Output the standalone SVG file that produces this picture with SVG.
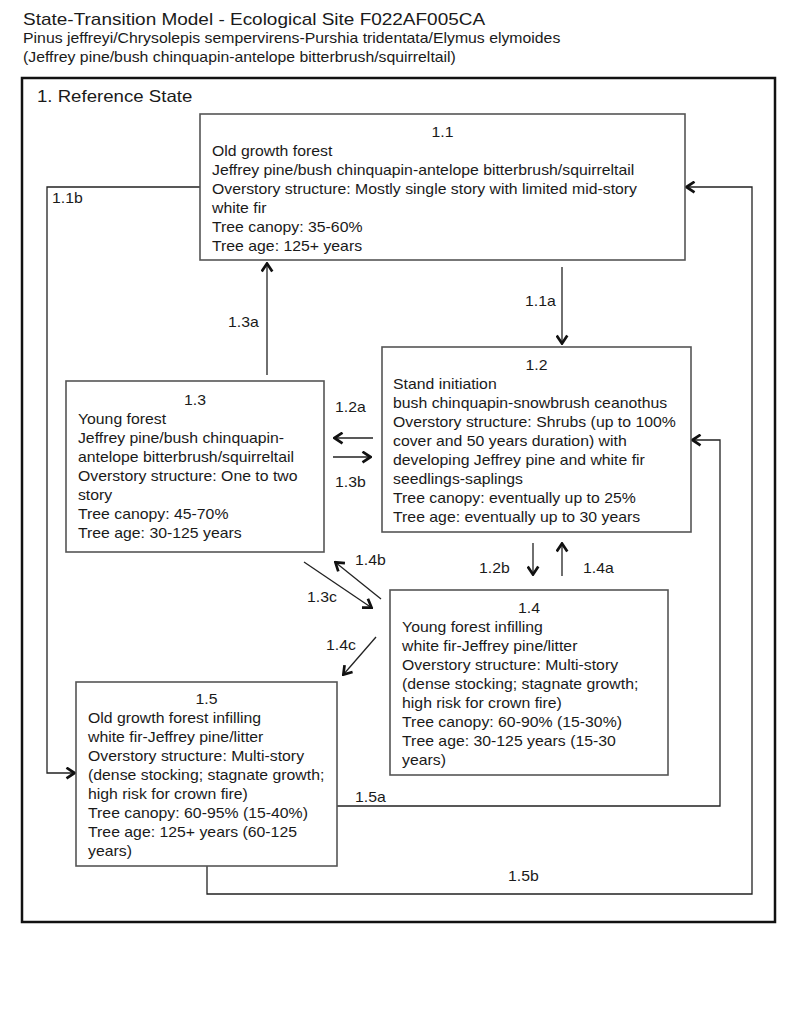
<svg xmlns="http://www.w3.org/2000/svg" width="800" height="1028" viewBox="0 0 800 1028">
<defs>
<style>
.bg{fill:#fff}
.outer{fill:none;stroke:#111;stroke-width:2.5}
.box{fill:#fff;stroke:#555;stroke-width:1.6}
.t{font-family:"Liberation Sans",Arial,Helvetica,sans-serif;font-size:14px;fill:#1a1a1a}
.title{font-size:16.8px}
.state{font-size:16.5px}
.mid{text-anchor:middle}
.c{fill:none;stroke:#222;stroke-width:1.3}
</style>
<marker id="ah" viewBox="0 0 11 13" refX="10" refY="6.5" markerWidth="11" markerHeight="13" markerUnits="userSpaceOnUse" orient="auto">
<path d="M1.5,1.2 L9.5,6.5 L1.5,11.8" fill="none" stroke="#111" stroke-width="2.7"/>
</marker>
</defs>
<rect class="bg" x="0" y="0" width="800" height="1028"/>

<g id="header" transform="scale(1.13,1)">
<text class="t title" x="20.4" y="25">State-Transition Model - Ecological Site F022AF005CA</text>
<text class="t" x="20.4" y="43">Pinus jeffreyi/Chrysolepis sempervirens-Purshia tridentata/Elymus elymoides</text>
<text class="t" x="20.4" y="62">(Jeffrey pine/bush chinquapin-antelope bitterbrush/squirreltail)</text>
</g>

<g id="state-1">
<rect class="outer" x="22" y="78" width="753" height="844"/>
<g transform="scale(1.13,1)"><text class="t state" x="32.7" y="102">1. Reference State</text></g>
</g>

<g id="connectors">
<path class="c" d="M562,267 L562,344" marker-end="url(#ah)"/>
<path class="c" d="M267,375 L267,263" marker-end="url(#ah)"/>
<path class="c" d="M200,187 L47,187 L47,773 L75,773" marker-end="url(#ah)"/>
<path class="c" d="M207,866 L207,894 L752,894 L752,187 L686,187" marker-end="url(#ah)"/>
<path class="c" d="M337,806 L720,806 L720,440 L692,440" marker-end="url(#ah)"/>
<path class="c" d="M373,438 L334,438" marker-end="url(#ah)"/>
<path class="c" d="M333,457 L371,457" marker-end="url(#ah)"/>
<path class="c" d="M533,543 L533,575" marker-end="url(#ah)"/>
<path class="c" d="M562,576 L562,543" marker-end="url(#ah)"/>
<path class="c" d="M304,562 L372,608" marker-end="url(#ah)"/>
<path class="c" d="M381,599 L335,562" marker-end="url(#ah)"/>
<path class="c" d="M376,637 L343,675" marker-end="url(#ah)"/>
<g transform="scale(1.13,1)">
<text class="t" x="464.6" y="306">1.1a</text>
<text class="t" x="201.8" y="327">1.3a</text>
<text class="t" x="46.0" y="203">1.1b</text>
<text class="t" x="296.5" y="412">1.2a</text>
<text class="t" x="296.5" y="487">1.3b</text>
<text class="t" x="423.9" y="573">1.2b</text>
<text class="t" x="515.9" y="573">1.4a</text>
<text class="t" x="271.7" y="602">1.3c</text>
<text class="t" x="314.2" y="565">1.4b</text>
<text class="t" x="288.5" y="650">1.4c</text>
<text class="t" x="314.2" y="802">1.5a</text>
<text class="t" x="449.6" y="881">1.5b</text>
</g>
</g>

<g id="node-1-1">
<rect class="box" x="200" y="114" width="485" height="146"/>
<g transform="scale(1.13,1)">
<text class="t mid" x="391.6" y="137">1.1</text>
<text class="t" x="187.6" y="156">Old growth forest</text>
<text class="t" x="187.6" y="175">Jeffrey pine/bush chinquapin-antelope bitterbrush/squirreltail</text>
<text class="t" x="187.6" y="194">Overstory structure: Mostly single story with limited mid-story</text>
<text class="t" x="187.6" y="213">white fir</text>
<text class="t" x="187.6" y="232">Tree canopy: 35-60%</text>
<text class="t" x="187.6" y="251">Tree age: 125+ years</text>
</g>
</g>

<g id="node-1-2">
<rect class="box" x="382" y="347" width="309" height="185"/>
<g transform="scale(1.13,1)">
<text class="t mid" x="474.8" y="370">1.2</text>
<text class="t" x="347.8" y="389">Stand initiation</text>
<text class="t" x="347.8" y="408">bush chinquapin-snowbrush ceanothus</text>
<text class="t" x="347.8" y="427">Overstory structure: Shrubs (up to 100%</text>
<text class="t" x="347.8" y="446">cover and 50 years duration) with</text>
<text class="t" x="347.8" y="465">developing Jeffrey pine and white fir</text>
<text class="t" x="347.8" y="484">seedlings-saplings</text>
<text class="t" x="347.8" y="503">Tree canopy: eventually up to 25%</text>
<text class="t" x="347.8" y="522">Tree age: eventually up to 30 years</text>
</g>
</g>

<g id="node-1-3">
<rect class="box" x="66" y="381" width="258" height="171"/>
<g transform="scale(1.13,1)">
<text class="t mid" x="172.6" y="405">1.3</text>
<text class="t" x="69.0" y="424">Young forest</text>
<text class="t" x="69.0" y="443">Jeffrey pine/bush chinquapin-</text>
<text class="t" x="69.0" y="462">antelope bitterbrush/squirreltail</text>
<text class="t" x="69.0" y="481">Overstory structure: One to two</text>
<text class="t" x="69.0" y="500">story</text>
<text class="t" x="69.0" y="519">Tree canopy: 45-70%</text>
<text class="t" x="69.0" y="538">Tree age: 30-125 years</text>
</g>
</g>

<g id="node-1-4">
<rect class="box" x="390" y="590" width="278" height="185"/>
<g transform="scale(1.13,1)">
<text class="t mid" x="468.1" y="613">1.4</text>
<text class="t" x="355.8" y="632">Young forest infilling</text>
<text class="t" x="355.8" y="651">white fir-Jeffrey pine/litter</text>
<text class="t" x="355.8" y="670">Overstory structure: Multi-story</text>
<text class="t" x="355.8" y="689">(dense stocking; stagnate growth;</text>
<text class="t" x="355.8" y="708">high risk for crown fire)</text>
<text class="t" x="355.8" y="727">Tree canopy: 60-90% (15-30%)</text>
<text class="t" x="355.8" y="746">Tree age: 30-125 years (15-30</text>
<text class="t" x="355.8" y="765">years)</text>
</g>
</g>

<g id="node-1-5">
<rect class="box" x="76" y="682" width="261" height="184"/>
<g transform="scale(1.13,1)">
<text class="t mid" x="182.7" y="704">1.5</text>
<text class="t" x="77.9" y="723">Old growth forest infilling</text>
<text class="t" x="77.9" y="742">white fir-Jeffrey pine/litter</text>
<text class="t" x="77.9" y="761">Overstory structure: Multi-story</text>
<text class="t" x="77.9" y="780">(dense stocking; stagnate growth;</text>
<text class="t" x="77.9" y="799">high risk for crown fire)</text>
<text class="t" x="77.9" y="818">Tree canopy: 60-95% (15-40%)</text>
<text class="t" x="77.9" y="837">Tree age: 125+ years (60-125</text>
<text class="t" x="77.9" y="856">years)</text>
</g>
</g>
</svg>
